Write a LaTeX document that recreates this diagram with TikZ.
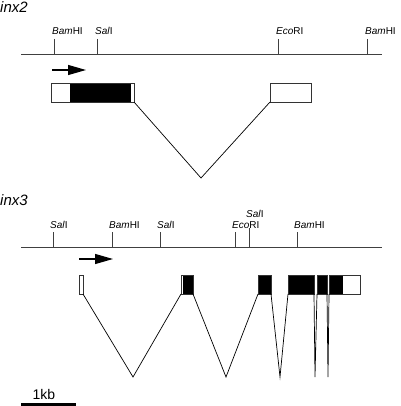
\documentclass[tikz,border=0pt]{standalone}
\usepackage{fontspec}
\setmainfont{Liberation Sans}
\usetikzlibrary{arrows.meta}
\begin{document}
\begin{tikzpicture}[x=1pt,y=-1pt,
    gene/.style={font=\fontsize{15}{15}\selectfont\itshape, inner sep=0pt, anchor=base west},
    site/.style={font=\fontsize{10}{10}\selectfont, inner sep=0pt, anchor=base west},
    map/.style={draw=black!75, line width=0.9pt},
    exon/.style={draw=black!80, line width=0.7pt},
    intron/.style={line width=0.7pt},
    dir/.style={line width=1.2pt, -{Triangle[length=18pt,width=10pt]}}]
    \useasboundingbox (0,0) rectangle (400,406);

    % inx2 (top)
    \node[gene] (g2) at (0,13) {inx2};
    \coordinate (m2a) at (21,54); \coordinate (m2b) at (382,54);
    \draw[map] (m2a) -- (m2b);
    \foreach \x/\lab [count=\i] in {54/{\textit{Bam}HI}, 97/{\textit{Sal}I},
        278/{\textit{Eco}RI}, 367/{\textit{Bam}HI}} {
        \coordinate (t2\i) at (\x,39); \coordinate (b2\i) at (\x,54);
        \draw[map] (t2\i) -- (b2\i);
        \node[site] (s2\i) at (\x-2,35) {\lab};
    }
    \coordinate (a2s) at (52,70); \coordinate (a2e) at (86,70);
    \draw[dir] (a2s) -- (a2e);

    % exons
    \coordinate (x21) at (134,102); \coordinate (x22) at (270,102);
    \coordinate (v2) at (201,178);
    \fill (70,83) rectangle (131,102);
    \draw[exon] (51,83) rectangle (134,102);
    \draw[exon] (270,83) rectangle (311,102);
    \draw[intron] (x21) -- (v2) -- (x22);

    % inx3 (bottom)
    \node[gene] (g3) at (0,205) {inx3};
    \coordinate (m3a) at (21,247); \coordinate (m3b) at (382,247);
    \draw[map] (m3a) -- (m3b);
    \foreach \x/\y/\ly/\lab [count=\i] in {53/232/228/{\textit{Sal}I},
        112/232/228/{\textit{Bam}HI}, 160/232/228/{\textit{Sal}I},
        235/232/228/{\textit{Eco}RI}, 249/228/217/{\textit{Sal}I},
        297/232/228/{\textit{Bam}HI}} {
        \coordinate (t3\i) at (\x,\y); \coordinate (b3\i) at (\x,247);
        \draw[map] (t3\i) -- (b3\i);
        \node[site] (s3\i) at (\x-3,\ly) {\lab};
    }
    \coordinate (a3s) at (79,259); \coordinate (a3e) at (113,259);
    \draw[dir] (a3s) -- (a3e);

    % exons
    \fill (183,275) rectangle (193,294);
    \fill (258,275) rectangle (271,294);
    \fill (288,275) rectangle (314,294);
    \fill (317,275) rectangle (327,294);
    \fill (329,275) rectangle (343,294);
    \foreach \a/\b in {79/83, 181/193, 258/271, 288/314, 317/327, 329/360}
        \draw[exon] (\a,275) rectangle (\b,294);

    % introns
    \foreach \a/\v/\b [count=\i] in {83/133/181, 193/226/258, 271/280/288,
        314/315/317, 327/328/329} {
        \coordinate (l3\i) at (\a,294); \coordinate (v3\i) at (\v,377);
        \coordinate (r3\i) at (\b,294);
        \draw[intron] (l3\i) -- (v3\i) -- (r3\i);
    }

    % scale bar
    \coordinate (k1) at (21,404); \coordinate (k2) at (76,404);
    \draw[line width=3pt] (k1) -- (k2);
    \node[font=\fontsize{14}{14}\selectfont, inner sep=0pt, anchor=base] (kb) at (44,399) {1kb};
\end{tikzpicture}
\end{document}
